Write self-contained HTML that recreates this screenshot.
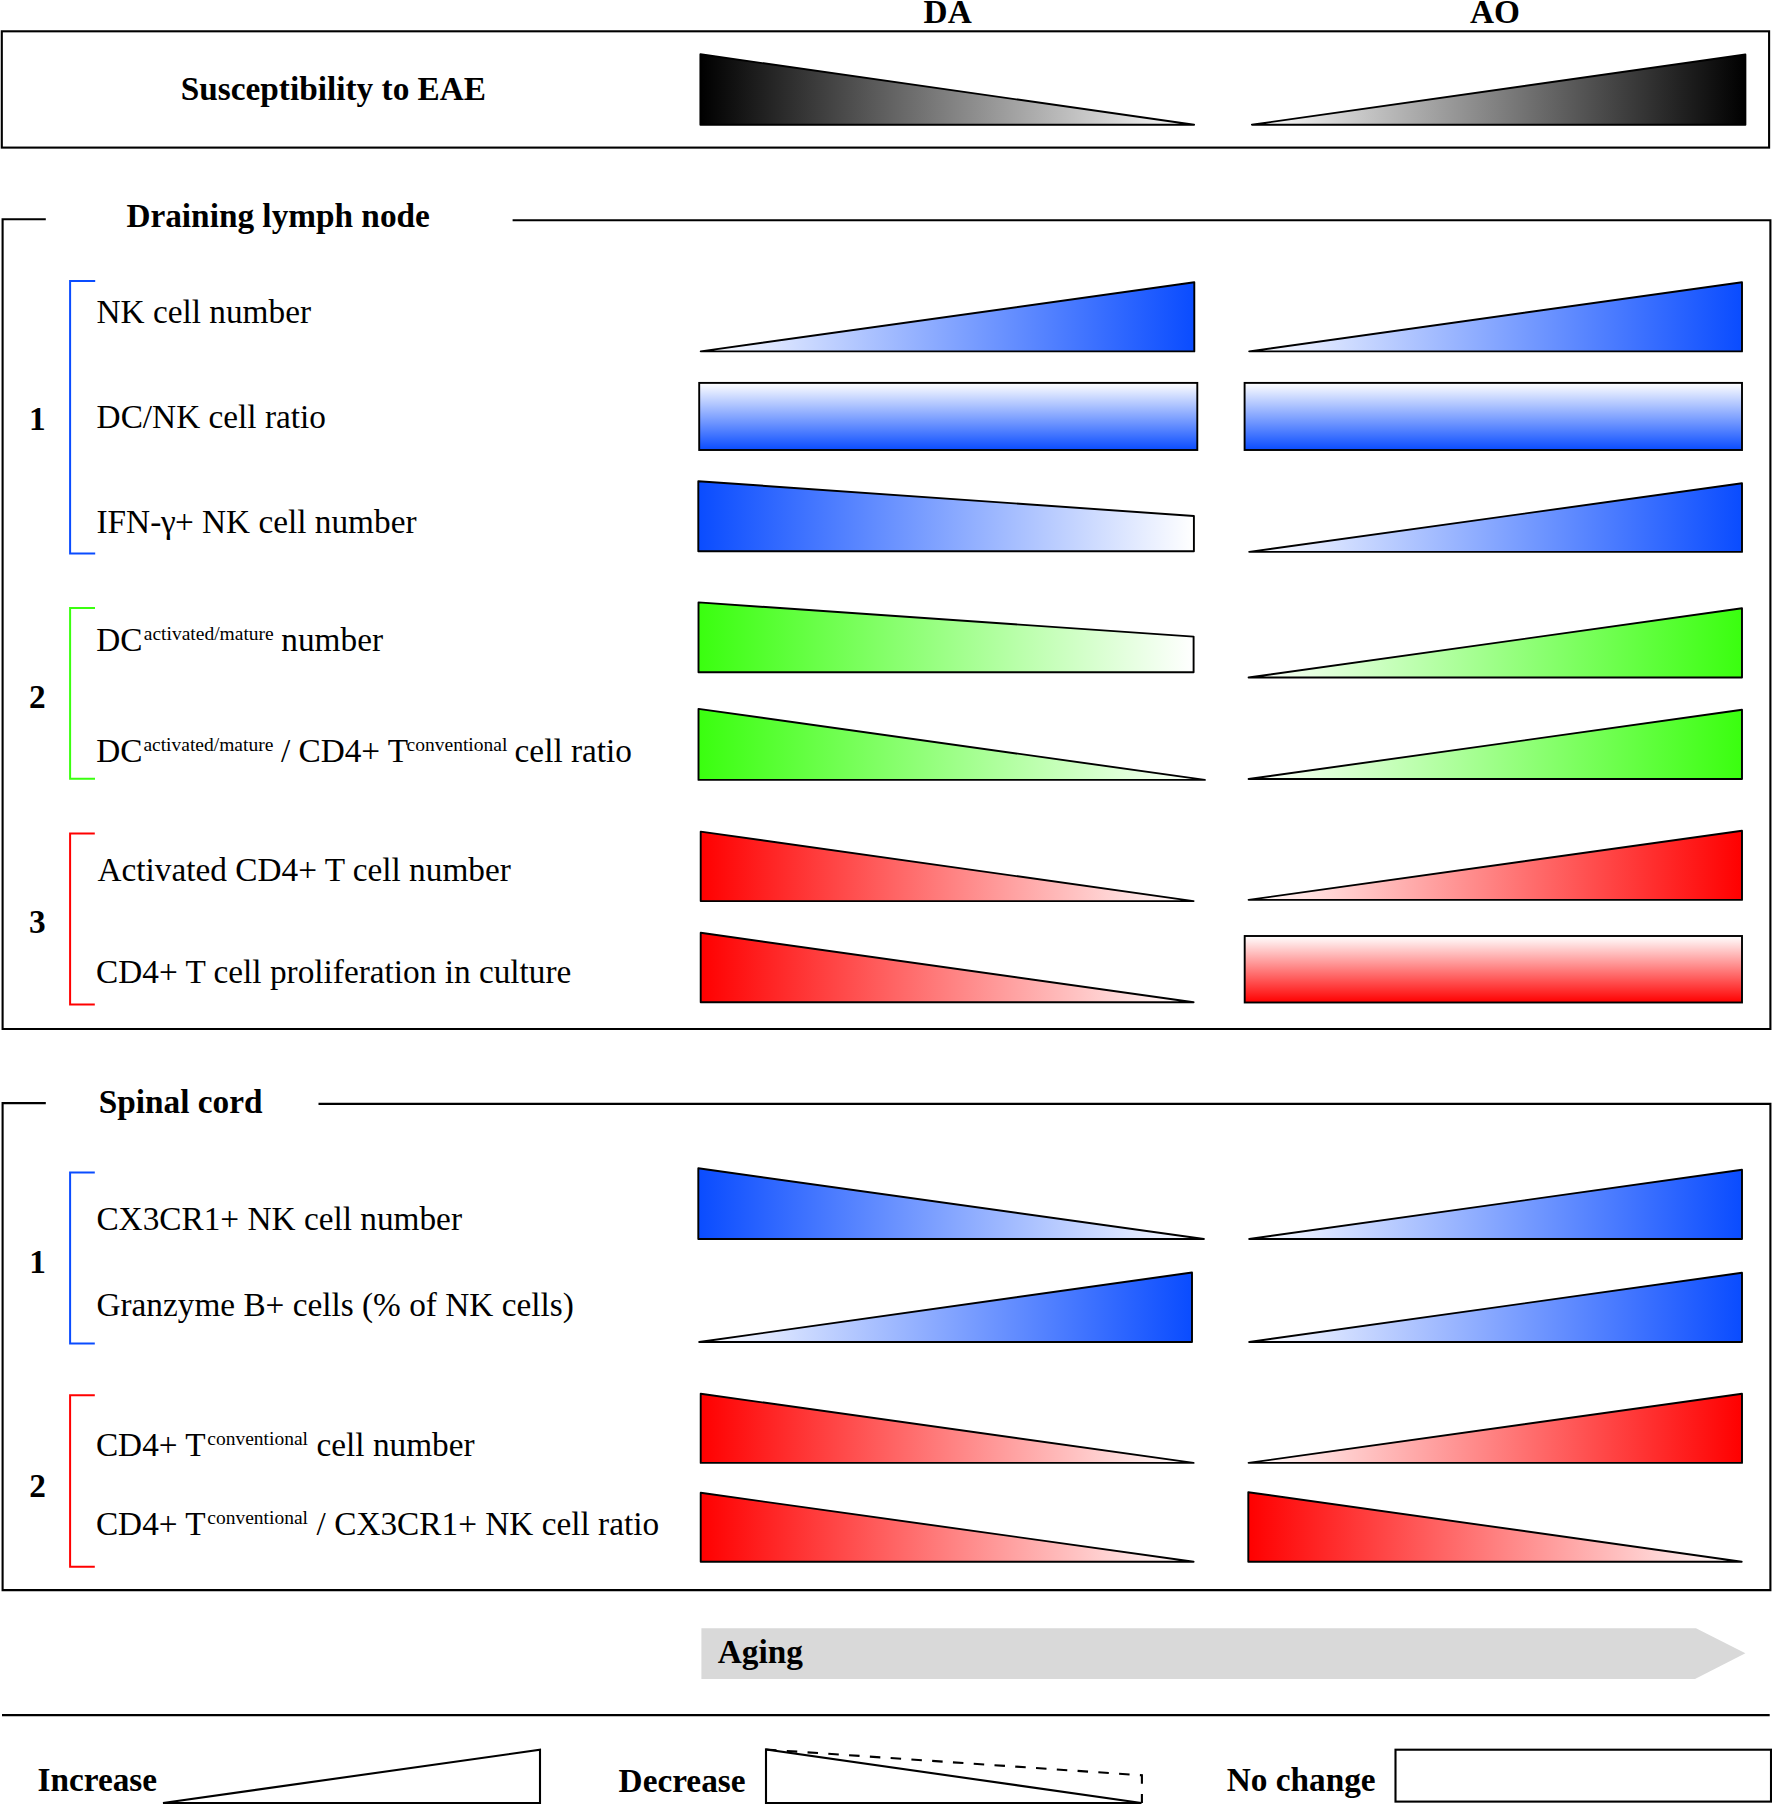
<!DOCTYPE html>
<html><head><meta charset="utf-8"><title>Figure</title>
<style>
html,body{margin:0;padding:0;background:#fff;width:1772px;height:1805px;overflow:hidden;}
svg{display:block;}
text{font-family:"Liberation Serif","Times New Roman",serif;font-size:33.3px;fill:#000;}
text.b{font-weight:bold;}
tspan.s{font-size:19.5px;}
</style></head><body>
<svg width="1772" height="1805" viewBox="0 0 1772 1805">
<defs>
<linearGradient id="kI" x1="0" y1="0" x2="1" y2="0"><stop offset="0" stop-color="#fff"/><stop offset="1" stop-color="#000000"/></linearGradient>
<linearGradient id="kD" x1="0" y1="0" x2="1" y2="0"><stop offset="0" stop-color="#000000"/><stop offset="1" stop-color="#fff"/></linearGradient>
<linearGradient id="kV" x1="0" y1="0" x2="0" y2="1"><stop offset="0" stop-color="#fff"/><stop offset="1" stop-color="#000000"/></linearGradient>
<linearGradient id="bI" x1="0" y1="0" x2="1" y2="0"><stop offset="0" stop-color="#fff"/><stop offset="1" stop-color="#0a4cff"/></linearGradient>
<linearGradient id="bD" x1="0" y1="0" x2="1" y2="0"><stop offset="0" stop-color="#0a4cff"/><stop offset="1" stop-color="#fff"/></linearGradient>
<linearGradient id="bV" x1="0" y1="0" x2="0" y2="1"><stop offset="0" stop-color="#fff"/><stop offset="1" stop-color="#0a4cff"/></linearGradient>
<linearGradient id="gI" x1="0" y1="0" x2="1" y2="0"><stop offset="0" stop-color="#fff"/><stop offset="1" stop-color="#3aff0f"/></linearGradient>
<linearGradient id="gD" x1="0" y1="0" x2="1" y2="0"><stop offset="0" stop-color="#3aff0f"/><stop offset="1" stop-color="#fff"/></linearGradient>
<linearGradient id="gV" x1="0" y1="0" x2="0" y2="1"><stop offset="0" stop-color="#fff"/><stop offset="1" stop-color="#3aff0f"/></linearGradient>
<linearGradient id="rI" x1="0" y1="0" x2="1" y2="0"><stop offset="0" stop-color="#fff"/><stop offset="1" stop-color="#ff0000"/></linearGradient>
<linearGradient id="rD" x1="0" y1="0" x2="1" y2="0"><stop offset="0" stop-color="#ff0000"/><stop offset="1" stop-color="#fff"/></linearGradient>
<linearGradient id="rV" x1="0" y1="0" x2="0" y2="1"><stop offset="0" stop-color="#fff"/><stop offset="1" stop-color="#ff0000"/></linearGradient>
</defs>
<rect x="0" y="0" width="1772" height="1805" fill="#fff"/>
<rect x="1.8" y="31.3" width="1767.3" height="116.3" fill="none" stroke="#000" stroke-width="2.1"/>
<polygon points="700.4,54.3 700.4,124.7 1194.1,124.7" fill="url(#kD)" stroke="#000" stroke-width="1.9" stroke-linejoin="round"/>
<polygon points="1251.9,124.7 1745.4,124.7 1745.4,54.5" fill="url(#kI)" stroke="#000" stroke-width="1.9" stroke-linejoin="round"/>
<polyline points="45.8,219.3 2.6,219.3 2.6,1029.0 1770.4,1029.0 1770.4,220.2 512.6,220.2" fill="none" stroke="#000" stroke-width="2.1"/>
<polyline points="45.8,1103.1 2.6,1103.1 2.6,1590.1 1770.4,1590.1 1770.4,1103.9 318.5,1103.9" fill="none" stroke="#000" stroke-width="2.1"/>
<polyline points="95.2,281.0 70.1,281.0 70.1,553.6 95.2,553.6" fill="none" stroke="#0a4cff" stroke-width="2.0"/>
<polyline points="95.0,607.9 70.1,607.9 70.1,778.8 95.0,778.8" fill="none" stroke="#3aff0f" stroke-width="2.0"/>
<polyline points="94.8,833.5 70.1,833.5 70.1,1004.6 94.8,1004.6" fill="none" stroke="#ff0000" stroke-width="2.0"/>
<polyline points="94.8,1172.5 70.1,1172.5 70.1,1343.5 94.8,1343.5" fill="none" stroke="#0a4cff" stroke-width="2.0"/>
<polyline points="94.8,1395.3 70.1,1395.3 70.1,1566.8 94.8,1566.8" fill="none" stroke="#ff0000" stroke-width="2.0"/>
<polygon points="700.7,351.4 1194.3,351.4 1194.3,282.2" fill="url(#bI)" stroke="#000" stroke-width="1.9" stroke-linejoin="round"/>
<polygon points="1249.2,351.4 1742,351.4 1742,282.2" fill="url(#bI)" stroke="#000" stroke-width="1.9" stroke-linejoin="round"/>
<rect x="699.2" y="382.9" width="498.0999999999999" height="67.10000000000002" fill="url(#bV)" stroke="#000" stroke-width="1.9"/>
<rect x="1244.6" y="382.9" width="497.4000000000001" height="67.10000000000002" fill="url(#bV)" stroke="#000" stroke-width="1.9"/>
<polygon points="698.3,481.2 1193.9,516.0 1193.9,551.3 698.3,551.3" fill="url(#bD)" stroke="#000" stroke-width="1.9" stroke-linejoin="round"/>
<polygon points="1249.2,551.9 1742,551.9 1742,483.3" fill="url(#bI)" stroke="#000" stroke-width="1.9" stroke-linejoin="round"/>
<polygon points="698.5,602.4 1193.6,636.6 1193.6,672.3 698.5,672.3" fill="url(#gD)" stroke="#000" stroke-width="1.9" stroke-linejoin="round"/>
<polygon points="1248.6,677.5 1742,677.5 1742,608.3" fill="url(#gI)" stroke="#000" stroke-width="1.9" stroke-linejoin="round"/>
<polygon points="698.5,708.9 698.5,779.9 1204.9,779.9" fill="url(#gD)" stroke="#000" stroke-width="1.9" stroke-linejoin="round"/>
<polygon points="1248.6,779.0 1742,779.0 1742,709.8" fill="url(#gI)" stroke="#000" stroke-width="1.9" stroke-linejoin="round"/>
<polygon points="700.7,831.6 700.7,901.1 1193.6,901.1" fill="url(#rD)" stroke="#000" stroke-width="1.9" stroke-linejoin="round"/>
<polygon points="1248.6,899.9 1742,899.9 1742,830.7" fill="url(#rI)" stroke="#000" stroke-width="1.9" stroke-linejoin="round"/>
<polygon points="700.7,932.8 700.7,1002.3 1193.6,1002.3" fill="url(#rD)" stroke="#000" stroke-width="1.9" stroke-linejoin="round"/>
<rect x="1244.7" y="936.0" width="497.29999999999995" height="66.5" fill="url(#rV)" stroke="#000" stroke-width="1.9"/>
<polygon points="698.3,1168.3 698.3,1239.0 1203.9,1239.0" fill="url(#bD)" stroke="#000" stroke-width="1.9" stroke-linejoin="round"/>
<polygon points="1249.2,1239.0 1742,1239.0 1742,1169.8" fill="url(#bI)" stroke="#000" stroke-width="1.9" stroke-linejoin="round"/>
<polygon points="699.2,1342.0 1192.0,1342.0 1192.0,1272.5" fill="url(#bI)" stroke="#000" stroke-width="1.9" stroke-linejoin="round"/>
<polygon points="1249.2,1342.0 1742,1342.0 1742,1272.8" fill="url(#bI)" stroke="#000" stroke-width="1.9" stroke-linejoin="round"/>
<polygon points="700.7,1393.7 700.7,1462.9 1193.6,1462.9" fill="url(#rD)" stroke="#000" stroke-width="1.9" stroke-linejoin="round"/>
<polygon points="1248.6,1462.9 1742,1462.9 1742,1393.7" fill="url(#rI)" stroke="#000" stroke-width="1.9" stroke-linejoin="round"/>
<polygon points="700.7,1492.8 700.7,1561.7 1193.6,1561.7" fill="url(#rD)" stroke="#000" stroke-width="1.9" stroke-linejoin="round"/>
<polygon points="1248.3,1492.2 1248.3,1561.7 1741.7,1561.7" fill="url(#rD)" stroke="#000" stroke-width="1.9" stroke-linejoin="round"/>
<polygon points="701.4,1628.2 1696,1628.2 1745.4,1653.3 1695,1679.0 701.4,1679.0" fill="#d9d9d9"/>
<line x1="2" y1="1715.1" x2="1769.7" y2="1715.1" stroke="#000" stroke-width="2.1"/>
<polygon points="163,1803 540,1803 540,1749.7" fill="#fff" stroke="#000" stroke-width="2.1"/>
<polygon points="766,1749.5 766,1803 1141.5,1803" fill="#fff" stroke="#000" stroke-width="2.1"/>
<polyline points="766,1749.5 1141.9,1775.3 1141.9,1803" fill="none" stroke="#000" stroke-width="2.1" stroke-dasharray="10.5 10.32"/>
<rect x="1395.5" y="1749.7" width="375.5" height="51.899999999999864" fill="#fff" stroke="#000" stroke-width="2.1"/>
<text x="923.6" y="22.9" class="b">DA</text>
<text x="1470" y="22.9" class="b">AO</text>
<text x="180.8" y="99.9" class="b">Susceptibility to EAE</text>
<text x="126.4" y="227.4" class="b">Draining lymph node</text>
<text x="96.5" y="322.9">NK cell number</text>
<text x="96.6" y="427.7">DC/NK cell ratio</text>
<text y="533"><tspan x="96.5">IFN-</tspan><tspan x="161.0">γ</tspan><tspan x="174.9">+ NK cell number</tspan></text>
<text x="29.0" y="430.4" class="b">1</text>
<text y="650.6"><tspan x="96.2">DC</tspan><tspan x="143.8" y="639.5" class="s">activated/mature</tspan><tspan x="281.3" y="650.6">number</tspan></text>
<text y="761.6"><tspan x="96.2">DC</tspan><tspan x="143.4" y="750.6" class="s">activated/mature</tspan><tspan x="280.9" y="761.6">/ CD4+ T</tspan><tspan x="406.6" y="750.6" class="s">conventional</tspan><tspan x="514.6" y="761.6">cell ratio</tspan></text>
<text x="29.1" y="708.4" class="b">2</text>
<text x="97.5" y="881.3">Activated CD4+ T cell number</text>
<text x="96.1" y="983.4">CD4+ T cell proliferation in culture</text>
<text x="29.1" y="933.0" class="b">3</text>
<text x="98.7" y="1113.4" class="b">Spinal cord</text>
<text x="96.4" y="1230.4">CX3CR1+ NK cell number</text>
<text x="96.4" y="1316.4">Granzyme B+ cells (% of NK cells)</text>
<text x="29.2" y="1272.5" class="b">1</text>
<text y="1456"><tspan x="95.9">CD4+ T</tspan><tspan x="207.3" y="1445" class="s">conventional</tspan><tspan x="316.5" y="1456">cell number</tspan></text>
<text y="1534.6"><tspan x="95.9">CD4+ T</tspan><tspan x="207.3" y="1523.6" class="s">conventional</tspan><tspan x="316.6" y="1534.6">/ CX3CR1+ NK cell ratio</tspan></text>
<text x="29.3" y="1496.7" class="b">2</text>
<text x="717.8" y="1663.3" class="b">Aging</text>
<text x="37.5" y="1791.2" class="b">Increase</text>
<text x="618.6" y="1791.5" class="b">Decrease</text>
<text x="1226.7" y="1791.3" class="b">No change</text>
</svg>
</body></html>
